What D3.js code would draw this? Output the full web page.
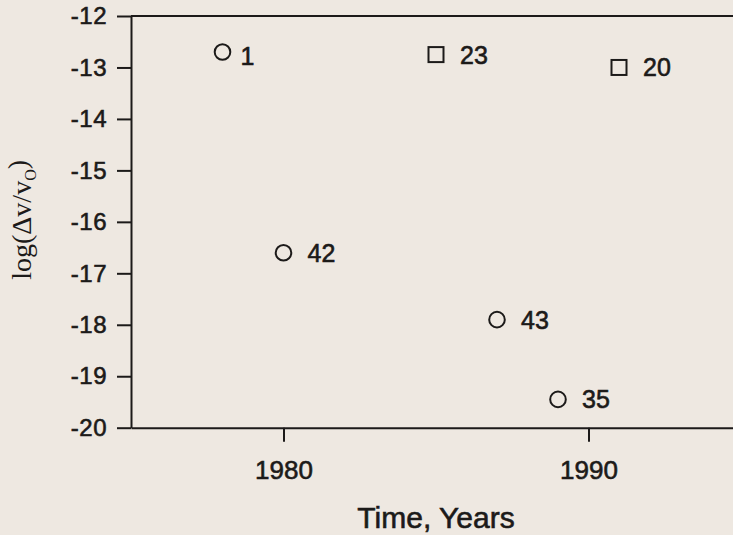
<!DOCTYPE html>
<html>
<head>
<meta charset="utf-8">
<script src="https://cdn.jsdelivr.net/npm/d3@7"></script>
<style>
  html, body { margin: 0; padding: 0; background: #eee8e1; }
  svg { display: block; }
  .heavy { paint-order: stroke; stroke: #1c1a19; stroke-width: 0.6px; }
</style>
</head>
<body>
<svg id="chart" width="733" height="535"></svg>
<script>
// Measurement years, log fractional frequency values and point labels
const years  = [1978, 1980, 1985, 1987, 1989, 1991];
const values = [-12.7, -16.6, -12.75, -17.9, -19.45, -13.0];
const labels = ["1", "42", "23", "43", "35", "20"];
const shapes = ["circle", "circle", "square", "circle", "circle", "square"];

// Axis ticks
const yTicks = [-12, -13, -14, -15, -16, -17, -18, -19, -20];
const xTicks = [1980, 1990];

// Small label nudges (layout only)
const labelNudge = { "1": [-6, 4] };

const W = 733, H = 535;
const ink = "#1c1a19";
const sans = "Arial, 'Liberation Sans', sans-serif";
const svg = d3.select("#chart");

svg.append("rect").attr("width", W).attr("height", H).attr("fill", "#eee8e1");

const x = d3.scaleLinear().domain([1975, 1995]).range([131, 741]);
const y = d3.scaleLinear().domain([-12, -20]).range([16, 427.7]);

// Frame: top edge runs past the visible right side
svg.append("line")
  .attr("x1", x(1975)).attr("x2", x(1995))
  .attr("y1", y(-12)).attr("y2", y(-12))
  .attr("stroke", ink).attr("stroke-width", 2);

// Left axis
const yAxis = svg.append("g")
  .attr("transform", `translate(${x(1975)},0)`)
  .call(d3.axisLeft(y).tickValues(yTicks).tickSize(14).tickSizeOuter(0).tickPadding(10)
        .tickFormat(d => String(d)));
yAxis.select(".domain").attr("stroke", ink).attr("stroke-width", 2);
yAxis.selectAll(".tick line").attr("stroke", ink).attr("stroke-width", 2);
yAxis.selectAll(".tick text")
  .attr("fill", ink)
  .attr("class", "heavy")
  .style("font-family", sans)
  .style("font-size", "24px")
  .style("letter-spacing", "0.5px");

// Bottom axis
const xAxis = svg.append("g")
  .attr("transform", `translate(0,${y(-20)})`)
  .call(d3.axisBottom(x).tickValues(xTicks).tickSize(14).tickSizeOuter(0).tickPadding(19)
        .tickFormat(d3.format("d")));
xAxis.select(".domain").attr("stroke", ink).attr("stroke-width", 2);
xAxis.selectAll(".tick line").attr("stroke", ink).attr("stroke-width", 2);
xAxis.selectAll(".tick text")
  .attr("fill", ink)
  .attr("class", "heavy")
  .style("font-family", sans)
  .style("font-size", "26px");

// Data points
const pts = years.map((yr, i) => ({ yr, v: values[i], label: labels[i], shape: shapes[i] }));
const g = svg.append("g");

g.selectAll("circle.pt")
  .data(pts.filter(d => d.shape === "circle"))
  .join("circle")
  .attr("class", "pt")
  .attr("cx", d => x(d.yr))
  .attr("cy", d => y(d.v))
  .attr("r", 7.8)
  .attr("fill", "none")
  .attr("stroke", ink)
  .attr("stroke-width", 2);

const side = 15;
g.selectAll("rect.pt")
  .data(pts.filter(d => d.shape === "square"))
  .join("rect")
  .attr("class", "pt")
  .attr("x", d => x(d.yr) - side / 2)
  .attr("y", d => y(d.v) - side / 2)
  .attr("width", side)
  .attr("height", side)
  .attr("fill", "none")
  .attr("stroke", ink)
  .attr("stroke-width", 2);

g.selectAll("text.lbl")
  .data(pts)
  .join("text")
  .attr("class", "lbl heavy")
  .attr("x", d => x(d.yr) + 24 + (labelNudge[d.label] ? labelNudge[d.label][0] : 0))
  .attr("y", d => y(d.v) + (labelNudge[d.label] ? labelNudge[d.label][1] : 0))
  .attr("dy", "0.36em")
  .attr("fill", ink)
  .style("font-family", sans)
  .style("font-size", "25px")
  .text(d => d.label);

// Axis titles
svg.append("text")
  .attr("class", "heavy")
  .attr("x", (x(1975) + x(1995)) / 2)
  .attr("y", 528)
  .attr("text-anchor", "middle")
  .attr("fill", ink)
  .style("font-family", sans)
  .style("font-size", "30px")
  .text("Time, Years");

const yTitle = svg.append("text")
  .attr("transform", `translate(31,${(y(-12) + y(-20)) / 2 - 2}) rotate(-90)`)
  .attr("text-anchor", "middle")
  .attr("fill", ink)
  .style("font-family", "'Times New Roman', 'Liberation Serif', serif")
  .style("font-size", "28px");
yTitle.append("tspan").text("log(Δv/v");
yTitle.append("tspan").attr("dy", "0.3em").style("font-size", "16px").text("O");
yTitle.append("tspan").attr("dy", "-0.3em").text(")");
</script>
</body>
</html>
